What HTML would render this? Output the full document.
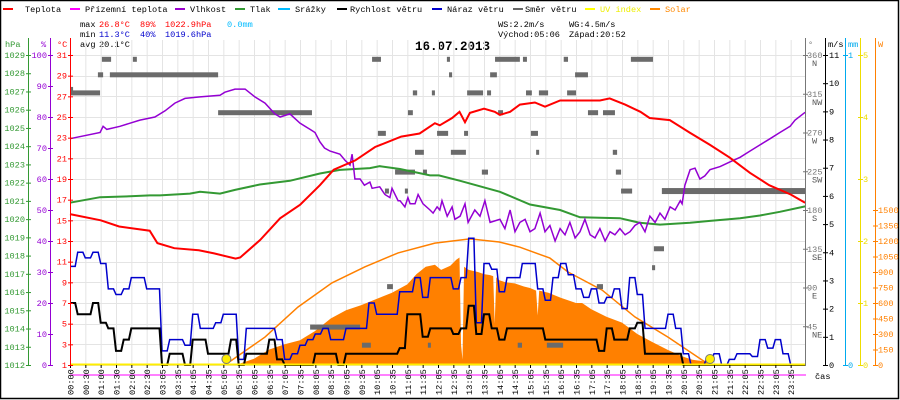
<!DOCTYPE html>
<html><head><meta charset="utf-8">
<style>
html,body{margin:0;padding:0;background:#fff;}
svg{display:block;font-family:"Liberation Mono",monospace;}
</style></head>
<body>
<svg id="chart" width="900" height="400" viewBox="0 0 900 400" xmlns="http://www.w3.org/2000/svg">
<rect x="0.5" y="0.5" width="898" height="398" fill="#fff" stroke="#000" stroke-width="1.5"/>
<g font-size="8.6">
 <g><line x1="3" y1="9" x2="13" y2="9" stroke="#f00" stroke-width="2"/><text x="25" y="12">Teplota</text></g>
 <g><line x1="70" y1="9" x2="80" y2="9" stroke="#f0f" stroke-width="2"/><text x="85" y="12">Přízemní teplota</text></g>
 <g><line x1="175" y1="9" x2="185" y2="9" stroke="#90c" stroke-width="2"/><text x="190" y="12">Vlhkost</text></g>
 <g><line x1="235" y1="9" x2="245" y2="9" stroke="#393" stroke-width="2"/><text x="250" y="12">Tlak</text></g>
 <g><line x1="278" y1="9" x2="290" y2="9" stroke="#0bf" stroke-width="2"/><text x="295" y="12">Srážky</text></g>
 <g><line x1="337" y1="9" x2="347" y2="9" stroke="#000" stroke-width="2"/><text x="350" y="12">Rychlost větru</text></g>
 <g><line x1="432" y1="9" x2="442" y2="9" stroke="#00c" stroke-width="2"/><text x="447" y="12">Náraz větru</text></g>
 <g><line x1="513" y1="9" x2="523" y2="9" stroke="#666" stroke-width="2"/><text x="525" y="12">Směr větru</text></g>
 <g><line x1="585" y1="9" x2="595" y2="9" stroke="#ff0" stroke-width="2"/><text x="600" y="12" fill="#ee0">UV index</text></g>
 <g><line x1="650" y1="9" x2="660" y2="9" stroke="#f80" stroke-width="2"/><text x="665" y="12" fill="#f80">Solar</text></g>
</g>
<g font-size="8.6">
 <text x="80" y="27">max</text><text x="99" y="27" fill="#f00">26.8°C</text><text x="140" y="27" fill="#f00">89%</text><text x="165" y="27" fill="#f00">1022.9hPa</text><text x="227" y="27" fill="#0bf">0.0mm</text>
 <text x="80" y="37">min</text><text x="99" y="37" fill="#00c">11.3°C</text><text x="140" y="37" fill="#00c">40%</text><text x="165" y="37" fill="#00c">1019.6hPa</text>
 <text x="80" y="47">avg</text><text x="99" y="47">20.1°C</text>
 <text x="498" y="27">WS:2.2m/s</text><text x="569" y="27">WG:4.5m/s</text>
 <text x="498" y="37">Východ:05:06</text><text x="569" y="37">Západ:20:52</text>
</g>
<text x="415" y="50" font-size="12.5" font-weight="bold">16.07.2013</text>
<g id="layer"></g>
</svg>
<script>
// ---------- DATA ----------
const xTickLabels=["00:00","00:30","01:00","01:30","02:00","02:30","03:05","03:35","04:05","04:35","05:05","05:35","06:05","06:35","07:05","07:35","08:05","08:35","09:05","09:35","10:05","10:35","11:05","11:35","12:05","12:35","13:05","13:35","14:05","14:35","15:05","15:35","16:05","16:35","17:05","17:35","18:05","18:35","19:05","19:35","20:05","20:35","21:05","21:35","22:05","22:35","23:05","23:35"];
const hpaTicks=[1029,1028,1027,1026,1025,1024,1023,1022,1021,1020,1019,1018,1017,1016,1015,1014,1013,1012];
const pctTicks=[100,90,80,70,60,50,40,30,20,10,0];
const tempTicks=[31,29,27,25,23,21,19,17,15,13,11,9,7,5,3,1];
const dirTicks=[360,315,270,225,180,135,90,45];
const dirNames=["N","NW","W","SW","S","SE","E","NE"];
const msTicks=[11,10,9,8,7,6,5,4,3,2,1,0];
const mmTicks=[1,0];
const uvTicks=[5,4,3,2,1,0];
const wTicks=[1500,1350,1200,1050,900,750,600,450,300,150,0];

const tempTimes=[0,1,1.6,2.6,2.85,3.4,4.2,4.7,5.4,5.55,6.2,6.85,7.5,8.15,8.6,9.3,9.95,10.8,11.4,11.9,12.06,12.46,12.7,12.88,13.04,13.5,13.85,14.02,14.35,14.67,15.16,15.49,15.98,17.28,17.6,18.1,18.6,18.9,19.56,20.2,20.87,21.5,22.17,22.8,23.5,23.97];
const tempValues=[15.6,15.0,14.4,14.0,12.8,12.3,12.1,11.8,11.3,11.4,13.1,15.2,16.5,18.4,19.9,20.8,22.1,23.1,23.4,24.4,24.2,24.9,25.5,24.5,25.4,25.8,25.5,25.2,25.5,26.2,26.4,26.0,26.6,26.6,26.8,26.2,25.5,24.9,24.7,23.5,22.3,21.1,19.6,18.4,17.5,16.7];

const humTimes=[0,0.98,1.08,1.2,1.63,2.28,2.77,3.1,3.42,3.75,4.24,4.89,5.05,5.38,5.71,6.03,6.36,6.68,6.85,7.17,7.5,7.83,7.99,8.15,8.3,8.48,8.8,8.97,9.13,9.2,9.29,9.46,9.6,9.78,9.85,10.1,10.27,10.43,10.5,10.7,10.76,10.92,11.02,11.09,11.25,11.35,11.51,11.74,11.84,11.97,12.06,12.13,12.3,12.46,12.55,12.72,12.88,12.98,13.2,13.37,13.53,13.7,14.02,14.18,14.35,14.51,14.67,14.84,15.0,15.16,15.33,15.49,15.65,15.82,15.98,16.14,16.3,16.47,16.63,16.79,16.96,17.12,17.28,17.45,17.61,17.77,17.93,18.1,18.26,18.42,18.58,18.75,18.91,19.08,19.24,19.4,19.57,19.73,19.9,19.96,20.05,20.22,20.38,20.54,20.7,20.87,21.2,21.52,21.85,22.17,22.5,22.83,23.15,23.48,23.64,23.97];
const humValues=[73,75,77,76,77,79,80,82,84.5,86,86.5,87,88,89,89,86.5,84.5,81,80,81,78,76,75,72,70,69,68,66,64.5,68,60,60,58,59,57,57.5,55,54,57,53,53,51,54,52,52,55,52,50,49,51,50,53,48,51,47,48,52,46,50,48,53,46,47,44,50,43,46,47,43,44,49,43,45,40,44,42,46,41,43,47,42,41,44,40,43,42,44,42,43,45,46,43,48,46,49,47,51,50,53,52,58,63,63.5,60,61,63,64,65.5,67,69,71,73,75,77,79,81.5];

const presTimes=[0,0.98,1.96,2.61,2.93,3.91,4.24,4.89,5.38,6.19,7.17,8.15,8.8,9.78,10.1,10.76,11.74,12.03,12.72,14.02,15.0,15.98,16.63,17.93,18.58,19.24,20.22,20.87,21.85,22.5,23.15,23.97];
const presValues=[1020.9,1021.2,1021.25,1021.3,1021.3,1021.4,1021.5,1021.4,1021.6,1021.9,1022.1,1022.5,1022.7,1022.8,1022.9,1022.75,1022.4,1022.4,1022.1,1021.5,1020.8,1020.5,1020.1,1020.05,1019.8,1019.7,1019.8,1019.9,1020.05,1020.2,1020.4,1020.7];

const solarTimes=[5.1,5.5,6,6.5,7,7.5,8,8.5,9,9.5,10,10.5,11,11.3,11.6,11.9,12.1,12.4,12.6,12.7,12.75,12.8,12.85,13,13.3,13.5,13.7,13.8,13.85,13.9,14,14.2,14.5,14.8,15,15.2,15.25,15.3,15.6,16,16.5,16.7,17,17.5,18,18.5,19,19.5,20,20.3,20.8,21,21.2];
const solarValues=[0,10,60,150,200,240,330,450,530,580,640,700,780,880,950,970,920,960,1020,1040,200,50,950,920,900,880,870,860,400,850,820,800,790,760,745,720,480,720,700,650,600,600,540,465,410,300,220,145,80,50,30,10,0];
const solarMaxTimes=[5.05,6.36,7.43,8.54,9.62,10.7,11.9,13.04,14.0,14.67,15.65,16.24,17.35,18.42,19.5,20.6,20.87];
const solarMaxValues=[0,270,560,795,950,1085,1180,1220,1190,1140,1035,900,725,465,270,50,0];

const windSpeed=[2.2,1.8,1.8,2.2,1.5,1.3,0.5,0.9,1.3,1.3,1.3,1.3,0,0.4,0.4,0,0.9,0.9,0.4,0.4,0.4,0.9,0,0.4,0.4,0.4,0.9,0.2,0,0,0,0,0.4,0.4,0.4,0,0.4,0.4,0.4,0.4,0.4,0.4,0.4,0.6,1.8,1.8,1.0,1.3,1.3,
1.3,1.1,1.3,2.1,1.1,1.8,1.3,0.9,1.3,1.3,1.3,1.3,1.3,0.9,0.9,0.9,0.9,0.9,0.9,0.9,0.5,1.3,0.9,0.9,1.3,1.5,0.4,0.4,0.4,0.4,0.4,0,0,0,0,0,0,0,0,0,0,0,0,0,0,0,0,0];
const windGust=[3.5,4.0,3.8,4.0,3.6,2.7,2.5,2.7,3.1,3.1,2.7,2.7,0.5,0.9,0.9,0.7,1.8,1.3,1.3,1.5,1.8,1.8,0.2,1.3,1.3,1.3,1.3,0.9,0.2,0.4,0.7,0.9,1.1,1.3,0.9,0.9,1.3,1.3,1.3,2.2,1.8,1.8,1.8,2.6,2.6,3.1,2.4,3.1,3.1,
3.1,2.7,3.1,4.5,1.5,3.6,3.4,2.6,3.1,3.1,3.6,3.6,2.7,2.3,3.1,3.6,3.2,2.7,2.4,2.7,2.2,2.4,2.7,2.0,3.1,2.5,1.3,1.3,1.3,1.8,1.3,0.4,0,0,0.2,0.4,0,0.2,0.4,0.4,0.3,0.9,0.6,0.9,0.4,0,0,0];

// wind direction segments: start hour, end hour, degrees
const dirStart=[0,0,0.91,1.04,1.30,2.05,4.83,7.83,9.52,9.85,10.04,10.27,10.34,10.6,10.92,11.02,11.18,11.25,11.51,11.67,11.8,11.97,12.29,12.36,12.42,12.85,12.95,13.43,13.6,13.7,13.86,13.96,14.6,14.77,14.87,15.03,15.2,15.29,15.55,16.1,16.21,16.47,16.89,17.18,17.38,17.7,17.8,17.97,18.29,18.98,19.04,19.3];
const dirEnd=[0.10,0.98,1.08,1.34,4.83,2.18,7.89,9.46,9.81,10.14,10.3,10.4,10.53,11.25,11.02,11.18,11.32,11.54,11.64,11.75,11.9,12.33,12.39,12.46,12.91,12.98,13.47,13.63,13.73,13.92,14.67,14.12,14.74,14.9,15.06,15.26,15.29,15.59,16.08,16.24,16.5,16.89,17.22,17.38,17.77,17.84,17.97,18.33,19.01,19.08,19.37,24];
const dirDeg=[320,316,337,355,337,355,293,44,23,355,269,202,91,224,202,293,316,247,224,23,316,269,355,337,247,269,316,224,316,337,355,293,23,355,316,269,247,316,23,355,316,337,293,91,293,247,224,202,355,113,135,202];

const sunEvents=[5.1,20.87];

// ---------- SCALES ----------
const X0=70,X1=806,YB=365,YT=55;
const xS=t=>X0+t*(X1-X0)/24;
const yT=v=>YB-(v-1)*(YB-YT)/30;
const yH=v=>YB-v*(YB-YT)/100;
const yP=v=>YB-(v-1012)*(YB-YT)/17;
const yWs=v=>YB-v*(YB-YT)/11;
const yD=d=>YB-d*(YB-YT)/360;
const yS=w=>YB-w*(YB-YT)/3000;
const yUV=u=>YB-u*(YB-YT)/5;

const NS='http://www.w3.org/2000/svg';
const layer=document.getElementById('layer');
function mk(tag,attrs,parent){const e=document.createElementNS(NS,tag);for(const k in attrs)e.setAttribute(k,attrs[k]);(parent||layer).appendChild(e);return e;}
function txt(s,attrs,parent){const e=mk('text',attrs,parent);e.textContent=s;return e;}
function pathOf(ts,vs,ys){return ts.map((t,i)=>(i?'L':'M')+xS(t).toFixed(1)+','+ys(vs[i]).toFixed(1)).join('');}

// grid
const grid=mk('g',{stroke:'#e4e4e4','stroke-width':1});


xTickLabels.forEach((l,i)=>{const x=X0+i*(X1-X0)/48;const g=mk('line',{x1:x+0.5,x2:x+0.5,y1:40,y2:YB},grid);

});
tempTicks.forEach(v=>{const y=Math.round(yT(v))+0.5;const g=mk('line',{x1:X0,x2:X1,y1:y,y2:y},grid);

});

// solar area
const sa=mk('path',{d:pathOf(solarTimes,solarValues,yS)+'L'+xS(solarTimes[solarTimes.length-1])+','+YB+'L'+xS(solarTimes[0])+','+YB+'Z',fill:'#ff8000'});


const sm=mk('path',{d:pathOf(solarMaxTimes,solarMaxValues,yS),fill:'none',stroke:'#ff8000','stroke-width':1.5});



// wind direction
const dg=mk('g',{fill:'#6b6b6b'});


dirDeg.forEach((d,i)=>{const h=dirEnd[i]-dirStart[i]>4?6:5;const r=mk('rect',{x:xS(dirStart[i]),y:yD(d)-h/2,width:Math.max(3,xS(dirEnd[i])-xS(dirStart[i])),height:h},dg);

});

// pressure, humidity, temperature
const pp=mk('path',{d:pathOf(presTimes,presValues,yP),fill:'none',stroke:'#339933','stroke-width':2});


const hp=mk('path',{d:pathOf(humTimes,humValues,yH),fill:'none',stroke:'#9400d3','stroke-width':1.5});


const tp=mk('path',{d:pathOf(tempTimes,tempValues,yT),fill:'none',stroke:'#ff0000','stroke-width':2});



// wind lines
function stepPath(vals){let d='';vals.forEach((v,i)=>{const t=i*0.25;const y=yWs(v).toFixed(1);d+=(i?'L':'M')+xS(t).toFixed(1)+','+y;if(i<vals.length-1)d+='L'+xS(t+0.17).toFixed(1)+','+y;});return d;}
const gp=mk('path',{d:stepPath(windGust),fill:'none',stroke:'#0000cc','stroke-width':1.5});


const wp=mk('path',{d:stepPath(windSpeed),fill:'none',stroke:'#000','stroke-width':2});



// UV baseline & ground temp line
const uv=mk('line',{x1:X0,x2:X1,y1:YB-0.5,y2:YB-0.5,stroke:'#ffee00','stroke-width':2});


const gt=mk('line',{x1:X0,x2:X1,y1:375,y2:375,stroke:'#ff00ff','stroke-width':1});


const gt2=mk('line',{x1:790,x2:805,y1:375,y2:375,stroke:'#ff00ff','stroke-width':1});


const cas=txt('čas',{x:815,y:379,'font-size':8.6});



// sun events
sunEvents.forEach(t=>{const c=mk('circle',{cx:xS(t),cy:359,r:4.5,fill:'#ffee00',stroke:'#777','stroke-width':1});

});

// x axis labels
const xa=mk('g',{'font-size':8.6});


xTickLabels.forEach((l,i)=>{const x=X0+i*(X1-X0)/48;
const tk=mk('line',{x1:x+0.5,x2:x+0.5,y1:YB,y2:YB+3,stroke:'#000'},xa);


const t=txt(l,{x:0,y:0,transform:'translate('+(x+3.5)+',395) rotate(-90)'},xa);

});

// vertical axes
function axis(name,x,color,ticks,ys,labelX,anchor,unit,unitX){
 const g=mk('g',{fill:color,'font-size':8.6});
 
 
 const ln=mk('line',{x1:x+0.5,x2:x+0.5,y1:38,y2:YB+1,stroke:color,'stroke-width':1},g);
 
 
 ticks.forEach(v=>{const y=ys(v);
  const tk=mk('line',{x1:x-2,x2:x+3,y1:y+0.5,y2:y+0.5,stroke:color},g);
  
  
  const t=txt(String(v),{x:labelX,y:y+3,'text-anchor':anchor},g);
  
  });
 if(unit){const u=txt(unit,{x:unitX,y:47},g);
  
  }
}
axis('hpa-axis',28,'#339933',hpaTicks,yP,25,'end','hPa',5);
axis('humidity-axis',50,'#9400d3',pctTicks,yH,47,'end','%',41);
axis('temperature-axis',70,'#ff0000',tempTicks,yT,67,'end','°C',57);
axis('direction-axis',805,'#777777',dirTicks,yD,807,'start','°',808);
axis('wind-speed-axis',825,'#000000',msTicks,yWs,829,'start','m/s',828);
axis('rain-axis',845,'#00aaee',mmTicks,v=>YB-v*(YB-YT),848,'start','mm',848);
axis('uv-axis',860,'#eedd00',uvTicks,yUV,863,'start','',0);
axis('solar-axis',875,'#ff8000',wTicks,yS,878,'start','W',878);
dirTicks.forEach((d,i)=>{const t=txt(dirNames[i],{x:812,y:yD(d)+11,fill:'#555','font-size':8.6});

});
</script>
</body></html>
